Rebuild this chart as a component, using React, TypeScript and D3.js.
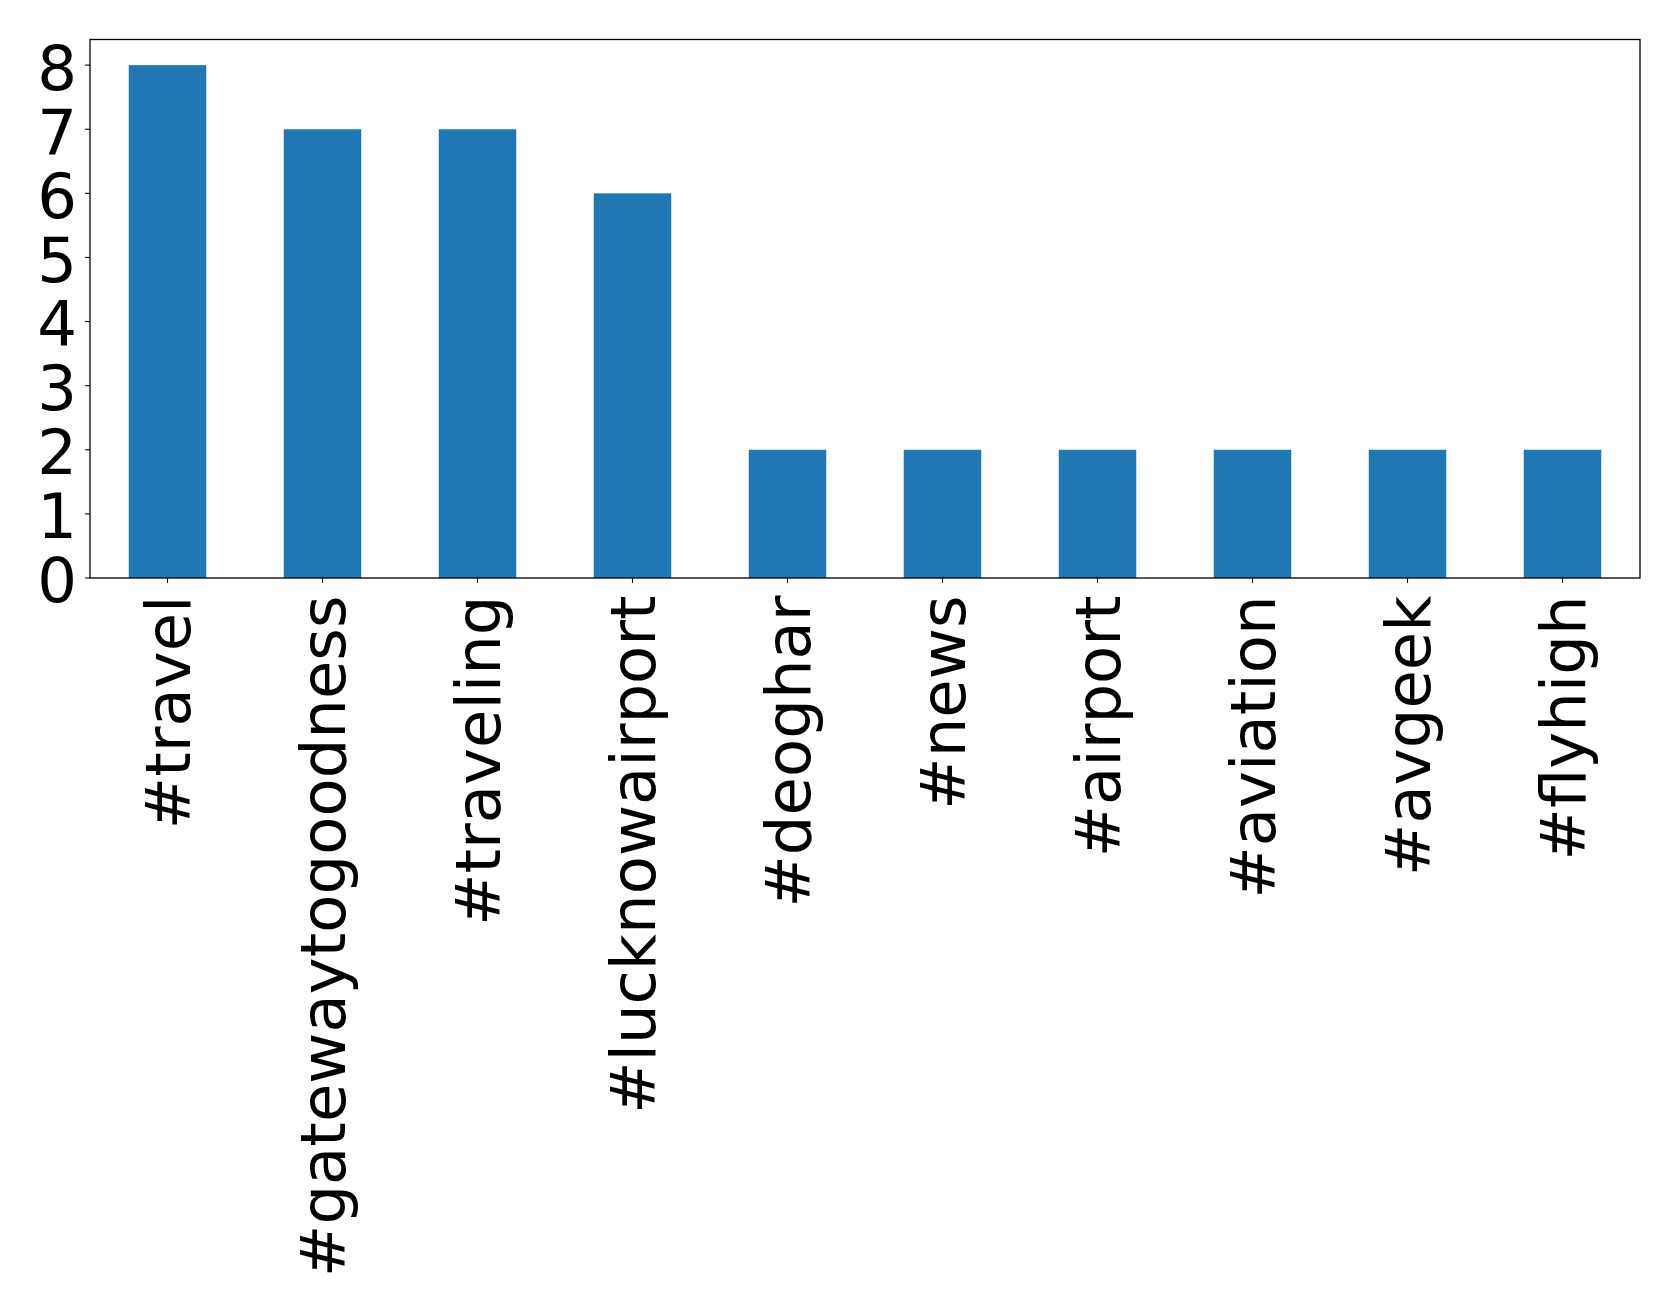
import React from "react";
import * as d3 from "d3";

const categories = ["#travel", "#gatewaytogoodness", "#traveling", "#lucknowairport", "#deoghar", "#news", "#airport", "#aviation", "#avgeek", "#flyhigh"];
const values = [8, 7, 7, 6, 2, 2, 2, 2, 2, 2];
const yTicks = [0, 1, 2, 3, 4, 5, 6, 7, 8];

export default function App() {
  const W = 1679, H = 1309;
  const left = 90, right = 1640, top = 39.5, bottom = 578;
  const x = d3.scaleLinear().domain([-0.5, categories.length - 0.5]).range([left, right]);
  const y = d3.scaleLinear().domain([0, 8.4]).range([bottom, top]);
  const bw = x(0.25) - x(-0.25);
  const font = "DejaVu Sans, sans-serif";
  const fs = 62.5;
  return (
    <svg width={W} height={H} style={{ position: "absolute", left: 0, top: 0, background: "#fff" }}>
      <rect x={0} y={0} width={W} height={H} fill="#fff" />
      {values.map((v, i) => (
        <rect key={i} x={x(i) - bw / 2} y={y(v)} width={bw} height={y(0) - y(v)} fill="#1f77b4" />
      ))}
      <rect x={left} y={top} width={right - left} height={bottom - top} fill="none" stroke="#000" strokeWidth={1.3} />
      {yTicks.map((t) => (
        <g key={t}>
          <line x1={left - 4.9} x2={left} y1={y(t)} y2={y(t)} stroke="#000" strokeWidth={1.1} />
          <text x={left - 13} y={y(t)} dy="0.39em" textAnchor="end" fontFamily={font} fontSize={fs} fill="#000">{t}</text>
        </g>
      ))}
      {categories.map((c, i) => (
        <g key={c}>
          <line x1={x(i)} x2={x(i)} y1={bottom} y2={bottom + 4.9} stroke="#000" strokeWidth={1.1} />
          <text transform={`translate(${x(i)},${bottom + 17.5}) rotate(-90)`} dy="0.36em" textAnchor="end" fontFamily={font} fontSize={fs} fill="#000">{c}</text>
        </g>
      ))}
    </svg>
  );
}
